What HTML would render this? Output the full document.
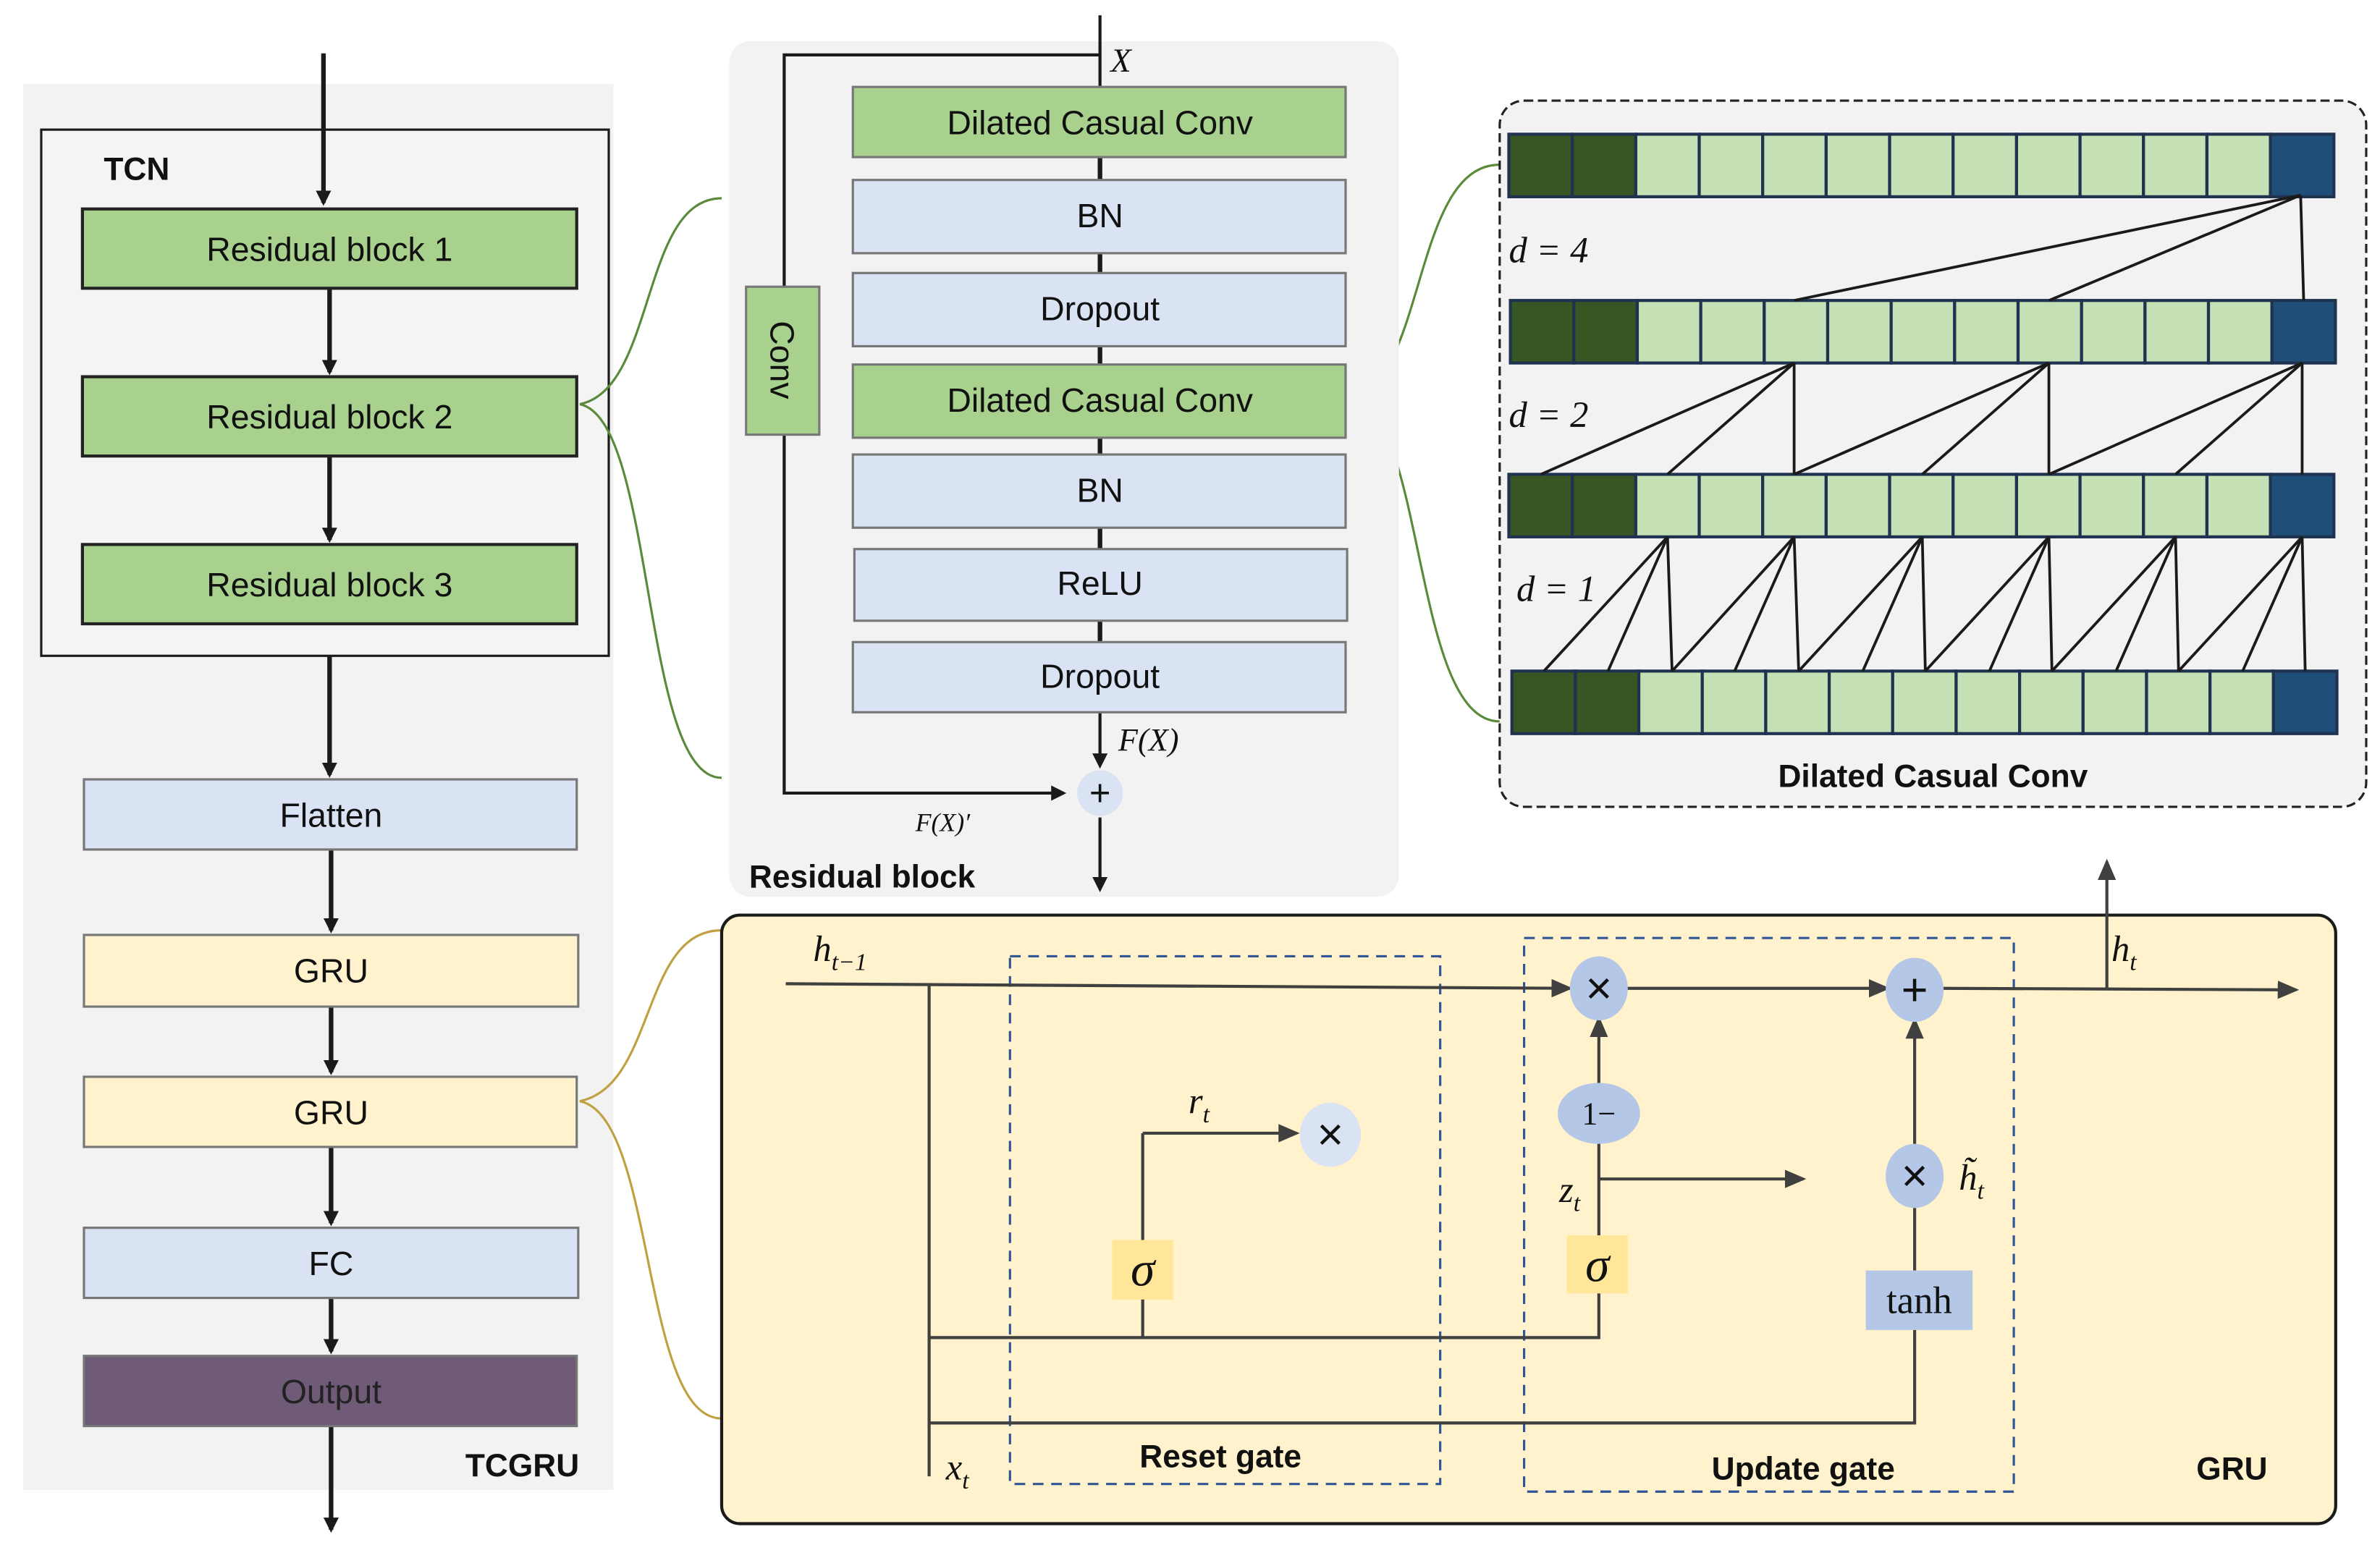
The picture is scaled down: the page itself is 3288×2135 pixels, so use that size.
<!DOCTYPE html>
<html><head><meta charset="utf-8"><style>
html,body{margin:0;padding:0;background:#fff;}
svg{display:block;}
text{font-family:"Liberation Sans",sans-serif;}
text.m{font-family:"Liberation Serif",serif;font-style:italic;}
text.s{font-family:"Liberation Serif",serif;}
</style></head><body>
<svg width="3288" height="2135" viewBox="0 0 1560 1013" xmlns="http://www.w3.org/2000/svg">
<defs>
<marker id="a" markerWidth="10" markerHeight="10" refX="8" refY="5" orient="auto" markerUnits="userSpaceOnUse"><path d="M0,0 L10,5 L0,10 z" fill="#1a1a1a"/></marker>
<marker id="g" markerWidth="14" markerHeight="12" refX="12" refY="6" orient="auto" markerUnits="userSpaceOnUse"><path d="M0,0 L14,6 L0,12 z" fill="#404040"/></marker>
<g id="row" stroke="#1f3350" stroke-width="2">
<rect x="0" y="0" width="41.6" height="41" fill="#375623"/><rect x="41.6" y="0" width="41.6" height="41" fill="#375623"/>
<rect x="83.2" y="0" width="41.6" height="41" fill="#c5e0b4"/><rect x="124.8" y="0" width="41.6" height="41" fill="#c5e0b4"/>
<rect x="166.4" y="0" width="41.6" height="41" fill="#c5e0b4"/><rect x="208" y="0" width="41.6" height="41" fill="#c5e0b4"/>
<rect x="249.6" y="0" width="41.6" height="41" fill="#c5e0b4"/><rect x="291.2" y="0" width="41.6" height="41" fill="#c5e0b4"/>
<rect x="332.8" y="0" width="41.6" height="41" fill="#c5e0b4"/><rect x="374.4" y="0" width="41.6" height="41" fill="#c5e0b4"/>
<rect x="416" y="0" width="41.6" height="41" fill="#c5e0b4"/><rect x="457.6" y="0" width="41.6" height="41" fill="#c5e0b4"/>
<rect x="499.2" y="0" width="41.6" height="41" fill="#1f4e79"/>
</g>
</defs>
<rect width="1560" height="1013" fill="#fff"/>
<!-- left panel -->
<rect x="15" y="55" width="387" height="922" fill="#f2f2f2"/>
<rect x="27" y="85" width="372" height="345" fill="#f4f4f4" stroke="#1a1a1a" stroke-width="1.5"/>
<text x="68" y="118" font-size="21" font-weight="bold" fill="#111">TCN</text>
<g stroke="#1a1a1a" stroke-width="3" marker-end="url(#a)">
<line x1="212" y1="35" x2="212" y2="133"/>
<line x1="216" y1="189" x2="216" y2="244"/>
<line x1="216" y1="299" x2="216" y2="354"/>
<line x1="216" y1="430" x2="216" y2="508"/>
<line x1="217" y1="557" x2="217" y2="610"/>
<line x1="217" y1="660" x2="217" y2="703"/>
<line x1="217" y1="752" x2="217" y2="802"/>
<line x1="217" y1="851" x2="217" y2="886"/>
<line x1="217" y1="935" x2="217" y2="1003"/>
</g>
<g font-size="22" text-anchor="middle" fill="#111">
<rect x="54" y="137" width="324" height="52" fill="#a9d18e" stroke="#222" stroke-width="2"/><text x="216" y="171">Residual block 1</text>
<rect x="54" y="247" width="324" height="52" fill="#a9d18e" stroke="#222" stroke-width="2"/><text x="216" y="281">Residual block 2</text>
<rect x="54" y="357" width="324" height="52" fill="#a9d18e" stroke="#222" stroke-width="2"/><text x="216" y="391">Residual block 3</text>
<rect x="55" y="511" width="323" height="46" fill="#dae3f3" stroke="#777" stroke-width="1.5"/><text x="217" y="542">Flatten</text>
<rect x="55" y="613" width="324" height="47" fill="#fff2cc" stroke="#777" stroke-width="1.5"/><text x="217" y="644">GRU</text>
<rect x="55" y="706" width="323" height="46" fill="#fff2cc" stroke="#777" stroke-width="1.5"/><text x="217" y="737">GRU</text>
<rect x="55" y="805" width="324" height="46" fill="#dae3f3" stroke="#777" stroke-width="1.5"/><text x="217" y="836">FC</text>
<rect x="55" y="889" width="323" height="46" fill="#6f5b77" stroke="#777" stroke-width="1.5"/><text x="217" y="920" fill="#222">Output</text>
</g>
<text x="305" y="968" font-size="21" font-weight="bold" fill="#111">TCGRU</text>
<!-- braces -->
<path d="M380,265 C430,255 420,130 473,130 M380,265 C430,275 420,510 473,510" fill="none" stroke="#5a8a3a" stroke-width="1.5"/>
<path d="M884,260 C935,255 925,108 983,108 M884,260 C935,265 925,473 983,473" fill="none" stroke="#5a8a3a" stroke-width="1.5"/>
<path d="M380,722 C430,712 420,610 473,610 M380,722 C430,732 420,930 473,930" fill="none" stroke="#c0a040" stroke-width="1.5"/>
<!-- middle panel -->
<rect x="478" y="27" width="439" height="561" rx="14" fill="#f2f2f2"/>
<g stroke="#1a1a1a" stroke-width="2" fill="none">
<line x1="721" y1="10" x2="721" y2="57"/>
<polyline points="721,36 514,36 514,520 697,520" marker-end="url(#a)"/>
<line x1="721" y1="467" x2="721" y2="502" marker-end="url(#a)"/>
<line x1="721" y1="536" x2="721" y2="583" marker-end="url(#a)"/>
<line x1="721" y1="103" x2="721" y2="421" stroke-width="3"/>
</g>
<g font-size="22" text-anchor="middle" fill="#111">
<rect x="559" y="57" width="323" height="46" fill="#a9d18e" stroke="#777" stroke-width="1.5"/><text x="721" y="88">Dilated Casual Conv</text>
<rect x="559" y="118" width="323" height="48" fill="#dae3f3" stroke="#777" stroke-width="1.5"/><text x="721" y="149">BN</text>
<rect x="559" y="179" width="323" height="48" fill="#dae3f3" stroke="#777" stroke-width="1.5"/><text x="721" y="210">Dropout</text>
<rect x="559" y="239" width="323" height="48" fill="#a9d18e" stroke="#777" stroke-width="1.5"/><text x="721" y="270">Dilated Casual Conv</text>
<rect x="559" y="298" width="323" height="48" fill="#dae3f3" stroke="#777" stroke-width="1.5"/><text x="721" y="329">BN</text>
<rect x="560" y="360" width="323" height="47" fill="#dae3f3" stroke="#777" stroke-width="1.5"/><text x="721" y="390">ReLU</text>
<rect x="559" y="421" width="323" height="46" fill="#dae3f3" stroke="#777" stroke-width="1.5"/><text x="721" y="451">Dropout</text>
<rect x="489" y="188" width="48" height="97" fill="#a9d18e" stroke="#777" stroke-width="1.5"/>
<text x="0" y="0" transform="translate(505,236) rotate(90)">Conv</text>
</g>
<circle cx="721" cy="520" r="15" fill="#dae3f3"/>
<text x="721" y="528" font-size="24" text-anchor="middle" fill="#111">+</text>
<text x="728" y="47" class="m" font-size="22" fill="#111">X</text>
<text x="733" y="492" class="m" font-size="21" fill="#111">F(X)</text>
<text x="600" y="545" class="m" font-size="17" fill="#111">F(X)′</text>
<text x="491" y="582" font-size="21" font-weight="bold" fill="#111">Residual block</text>
<!-- right panel -->
<rect x="983" y="66" width="568" height="463" rx="16" fill="#f2f2f2" stroke="#222" stroke-width="1.5" stroke-dasharray="6,3"/>
<use href="#row" transform="translate(989,88)"/>
<use href="#row" transform="translate(990,197)"/>
<use href="#row" transform="translate(989,311)"/>
<use href="#row" transform="translate(991,440)"/>
<g stroke="#1a1a1a" stroke-width="1.8">
<line x1="1508" y1="128" x2="1176" y2="197"/><line x1="1508" y1="128" x2="1343" y2="197"/><line x1="1508" y1="128" x2="1510" y2="197"/>
<line x1="1176" y1="238" x2="1010" y2="311"/><line x1="1176" y1="238" x2="1093" y2="311"/><line x1="1176" y1="238" x2="1176" y2="311"/>
<line x1="1343" y1="238" x2="1176" y2="311"/><line x1="1343" y1="238" x2="1260" y2="311"/><line x1="1343" y1="238" x2="1343" y2="311"/>
<line x1="1509" y1="238" x2="1343" y2="311"/><line x1="1509" y1="238" x2="1426" y2="311"/><line x1="1509" y1="238" x2="1509" y2="311"/>
<line x1="1093" y1="352" x2="1012" y2="440"/><line x1="1093" y1="352" x2="1054" y2="440"/><line x1="1093" y1="352" x2="1096" y2="440"/>
<line x1="1176" y1="352" x2="1096" y2="440"/><line x1="1176" y1="352" x2="1137" y2="440"/><line x1="1176" y1="352" x2="1179" y2="440"/>
<line x1="1260" y1="352" x2="1179" y2="440"/><line x1="1260" y1="352" x2="1221" y2="440"/><line x1="1260" y1="352" x2="1262" y2="440"/>
<line x1="1343" y1="352" x2="1262" y2="440"/><line x1="1343" y1="352" x2="1304" y2="440"/><line x1="1343" y1="352" x2="1345" y2="440"/>
<line x1="1426" y1="352" x2="1345" y2="440"/><line x1="1426" y1="352" x2="1387" y2="440"/><line x1="1426" y1="352" x2="1428" y2="440"/>
<line x1="1509" y1="352" x2="1428" y2="440"/><line x1="1509" y1="352" x2="1470" y2="440"/><line x1="1509" y1="352" x2="1511" y2="440"/>
</g>
<g font-size="24" fill="#111">
<text x="989" y="172" class="m">d = 4</text>
<text x="989" y="280" class="m">d = 2</text>
<text x="994" y="394" class="m">d = 1</text>
</g>
<text x="1267" y="516" font-size="21" font-weight="bold" text-anchor="middle" fill="#111">Dilated Casual Conv</text>
<!-- GRU panel -->
<rect x="473" y="600" width="1058" height="399" rx="12" fill="#fff2cc" stroke="#1a1a1a" stroke-width="2"/>
<rect x="662" y="627" width="282" height="346" fill="none" stroke="#2f5597" stroke-width="1.5" stroke-dasharray="7,5"/>
<rect x="999" y="615" width="321" height="363" fill="none" stroke="#2f5597" stroke-width="1.5" stroke-dasharray="7,5"/>
<g stroke="#404040" stroke-width="2" fill="none">
<line x1="515" y1="645" x2="1029" y2="648" marker-end="url(#g)"/>
<line x1="1066" y1="648" x2="1237" y2="648" marker-end="url(#g)"/>
<line x1="1273" y1="648" x2="1505" y2="649" marker-end="url(#g)"/>
<line x1="1381" y1="648" x2="1381" y2="565" marker-end="url(#g)"/>
<line x1="609" y1="645" x2="609" y2="968"/>
<polyline points="609,877 1048,877 1048,848"/>
<line x1="749" y1="877" x2="749" y2="852"/>
<line x1="749" y1="813" x2="749" y2="743"/>
<line x1="749" y1="743" x2="850" y2="743" marker-end="url(#g)"/>
<polyline points="609,933 1255,933 1255,872"/>
<line x1="1048" y1="810" x2="1048" y2="748"/>
<line x1="1048" y1="712" x2="1048" y2="668" marker-end="url(#g)"/>
<line x1="1048" y1="773" x2="1182" y2="773" marker-end="url(#g)"/>
<line x1="1255" y1="833" x2="1255" y2="792"/>
<line x1="1255" y1="750" x2="1255" y2="669" marker-end="url(#g)"/>
</g>
<ellipse cx="1048" cy="648" rx="19" ry="21" fill="#b4c7e7"/>
<ellipse cx="1255" cy="649" rx="19" ry="21" fill="#b4c7e7"/>
<ellipse cx="1048" cy="730" rx="27" ry="20" fill="#b4c7e7"/>
<ellipse cx="1255" cy="771" rx="19" ry="21" fill="#b4c7e7"/>
<ellipse cx="872" cy="744" rx="20" ry="21" fill="#dae3f3"/>
<rect x="729" y="813" width="40" height="39" fill="#ffe699"/>
<rect x="1027" y="810" width="40" height="38" fill="#ffe699"/>
<rect x="1223" y="833" width="70" height="39" fill="#b4c7e7"/>
<g font-size="30" text-anchor="middle" fill="#111">
<text x="1048" y="658">×</text><text x="1255" y="659">+</text><text x="1255" y="781">×</text><text x="872" y="754">×</text>
</g>
<g fill="#111" text-anchor="middle">
<text x="1048" y="737" font-size="21" class="s">1−</text>
<text x="1258" y="861" font-size="25" class="s">tanh</text>
<text x="749" y="843" font-size="32" class="m">σ</text>
<text x="1047" y="840" font-size="32" class="m">σ</text>
</g>
<g fill="#111" font-size="24">
<text x="533" y="630" class="m">h<tspan font-size="16" dy="6">t−1</tspan></text>
<text x="779" y="730" class="m">r<tspan font-size="16" dy="6">t</tspan></text>
<text x="1022" y="788" class="m">z<tspan font-size="16" dy="6">t</tspan></text>
<text x="620" y="970" class="m">x<tspan font-size="16" dy="6">t</tspan></text>
<text x="1384" y="630" class="m">h<tspan font-size="16" dy="6">t</tspan></text>
<text x="1284" y="780" class="m">h̃<tspan font-size="16" dy="6">t</tspan></text>
</g>
<g font-size="21" font-weight="bold" fill="#111" text-anchor="middle">
<text x="800" y="962">Reset gate</text>
<text x="1182" y="970">Update gate</text>
<text x="1463" y="970">GRU</text>
</g>
</svg>
</body></html>
